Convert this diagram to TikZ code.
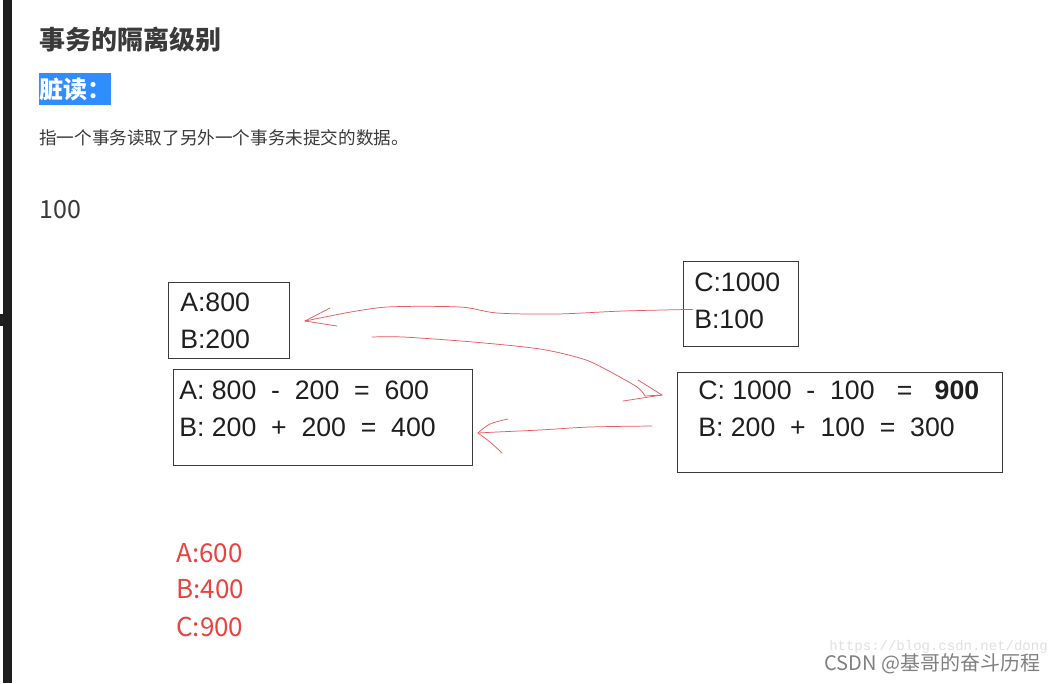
\documentclass[tikz,border=0pt]{standalone}
\usepackage{fontspec}
\setmainfont{Noto Sans CJK SC}
\newfontfamily\boxfont{Liberation Sans}
\newfontfamily\urlfont{Liberation Mono}
\usetikzlibrary{positioning}
\definecolor{inkgray}{HTML}{3A3A3A}
\definecolor{markblue}{HTML}{2F8DFF}
\definecolor{penred}{HTML}{E8585C}
\definecolor{notered}{HTML}{E8443F}
\definecolor{stripdark}{HTML}{1E1E1E}
\tikzset{
  acctbox/.style={draw=inkgray, line width=0.8pt, inner sep=0pt, anchor=north west},
  valtext/.style={font=\boxfont\fontsize{20}{24}\selectfont, text=black!88, inner sep=0pt, anchor=west},
  resulttext/.style={font=\fontsize{19.5}{24}\selectfont, text=notered, inner sep=0pt, anchor=west},
  penline/.style={draw=penred, line width=0.55pt, line join=round, line cap=round},
  headtext/.style={inner sep=0pt, anchor=west, text=inkgray}
}

\begin{document}
\begin{tikzpicture}[x=0.75pt, y=-0.75pt]
  \fill[white] (0,0) rectangle (1051,683);
  \useasboundingbox (0,0) rectangle (1051,683);
  \fill[stripdark] (3,0) rectangle (12,683);
  \fill[stripdark] (0,314) rectangle (4,326);

  % heading and note
  \node[headtext, font=\bfseries\fontsize{19.5}{24}\selectfont] (title) at (39,40) {事务的隔离级别};
  \node[fill=markblue, text=white, font=\bfseries\fontsize{18}{22}\selectfont, inner sep=0pt,
    minimum width=54pt, minimum height=24pt, anchor=north west] (dirty) at (39,73) {脏读：};
  \node[headtext, font=\fontsize{13.2}{16}\selectfont] (desc) at (39,138)
    {指一个事务读取了另外一个事务未提交的数据。};
  \node[headtext, font=\fontsize{18.75}{22}\selectfont] (start) at (39,210) {100};

  % account boxes
  \node[acctbox, minimum width=90.75pt, minimum height=57pt] (abox) at (168,282) {};
  \node[acctbox, minimum width=86.25pt, minimum height=63.75pt] (cbox) at (683,261) {};
  \node[acctbox, minimum width=224.25pt, minimum height=72pt] (abcalc) at (173,369) {};
  \node[acctbox, minimum width=243.75pt, minimum height=75pt] (cbcalc) at (677,372) {};

  \node[valtext] (aval) at (180,302) {A:800};
  \node[valtext] (bval) at (180,339) {B:200};
  \node[valtext] (cval) at (694,282) {C:1000};
  \node[valtext] (bval2) at (694,319) {B:100};
  \node[valtext] (aline) at (179,390) {A: 800~~-~~200~~=~~600};
  \node[valtext] (bline) at (179,427) {B: 200~~+~~200~~=~~400};
  \node[valtext] (cline) at (698,390) {C: 1000~~-~~100~~~=~~~\textbf{900}};
  \node[valtext] (bline2) at (698,427) {B: 200~~+~~100~~=~~300};

  % results
  \node[resulttext] (ares) at (176,553) {A:600};
  \node[resulttext] (bres) at (176,589) {B:400};
  \node[resulttext] (cres) at (176,627) {C:900};

  % pen strokes
  \coordinate (tipA) at (305,321);
  \coordinate (tipC) at (662,395);
  \coordinate (tipB) at (478,433);
  \draw[penline] plot[smooth, tension=0.5] coordinates
    {([xshift=7.5pt,yshift=-4pt]cbox.west) (623,311) (557,314) (497,313) (460,307) (387,307) (340,314)}
    -- (tipA);
  \draw[penline] (tipA) -- (330,308);
  \draw[penline] (tipA) -- (337,326);
  \draw[penline] plot[smooth, tension=0.5] coordinates
    {(372,337) (403,337) (473,342) (540,349) (583,359) (607,370) (637,387) (645,396)} -- (tipC);
  \draw[penline] (tipC) -- (638,380);
  \draw[penline] (tipC) -- (623,401);
  \draw[penline] plot[smooth, tension=0.5] coordinates
    {(652,426) (590,427) (540,430) (497,432) (tipB)};
  \draw[penline] plot[smooth, tension=0.6] coordinates {(tipB) (490,424) (508,419)};
  \draw[penline] plot[smooth, tension=0.6] coordinates {(tipB) (490,442) (502,453)};

  % watermark
  \node[headtext, text=black!12, font=\urlfont\fontsize{10.5}{12}\selectfont] (url) at (829,647)
    {https://blog.csdn.net/dong};
  \node[headtext, text=black!50, font=\fontsize{15}{18}\selectfont] (mark) at (824,664)
    {CSDN @基哥的奋斗历程};
\end{tikzpicture}
\end{document}
